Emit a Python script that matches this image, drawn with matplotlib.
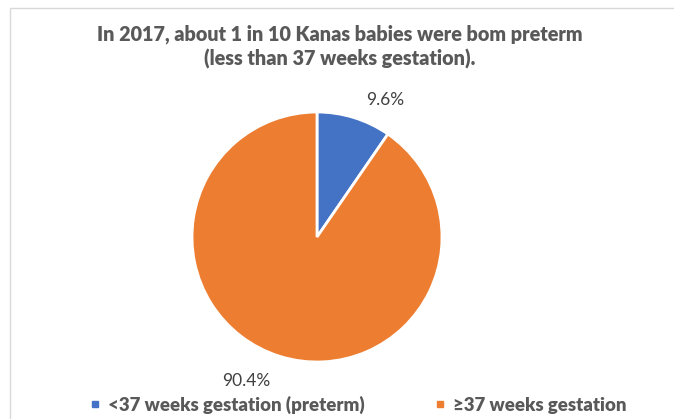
import matplotlib.pyplot as plt
import matplotlib.patches as mpatches
from matplotlib.lines import Line2D

plt.rcParams['font.family'] = ['Lato', 'DejaVu Sans']

categories = ['<37 weeks gestation (preterm)', '≥37 weeks gestation']
values = [9.6, 90.4]
colors = ['#4472C4', '#ED7D31']
title = 'In 2017, about 1 in 10 Kanas babies were bom preterm\n(less than 37 weeks gestation).'
textGrey = '#595959'

W, H = 674, 419
fig = plt.figure(figsize=(W / 100, H / 100), dpi=100)

# chart frame (cropped at right/bottom)
frame = mpatches.Rectangle((10 / W, -0.1), 1.2, 1 - 8 / H + 0.1, transform=fig.transFigure,
                           fill=False, edgecolor='#D9D9D9', linewidth=1.0)
fig.patches.append(frame)

cx, cy, r = 317, 237, 125
ax = fig.add_axes([(cx - r) / W, (H - cy - r) / H, 2 * r / W, 2 * r / H])
ax.pie(values, colors=colors, startangle=90, counterclock=False,
       wedgeprops=dict(edgecolor='white', linewidth=2))
ax.set_xlim(-1, 1)
ax.set_ylim(-1, 1)
ax.set_aspect('auto')

# data labels
labelPos = [(0.544, 1.096), (-0.568, -1.152)]
for v, (lx, ly) in zip(values, labelPos):
    ax.text(lx, ly, f'{v}%', ha='center', va='center', fontsize=12.5,
            color='#404040', clip_on=False)

fig.text(340 / W, 1 - 47 / H, title, ha='center', va='center', fontsize=14.2,
         fontweight='heavy', color=textGrey, linespacing=1.3)

handles = [Line2D([], [], marker='s', linestyle='none', markersize=5,
                  markerfacecolor=c, markeredgecolor=c) for c in colors]
leg = fig.legend(handles, categories, loc='center', bbox_to_anchor=(357 / W, 1 - 405 / H),
                 ncol=2, frameon=False, handletextpad=0.3, columnspacing=3.6,
                 prop=dict(size=13.4, weight='heavy'), handlelength=0.8)
for t in leg.get_texts():
    t.set_color(textGrey)

fig.savefig('out.png', dpi=100)
